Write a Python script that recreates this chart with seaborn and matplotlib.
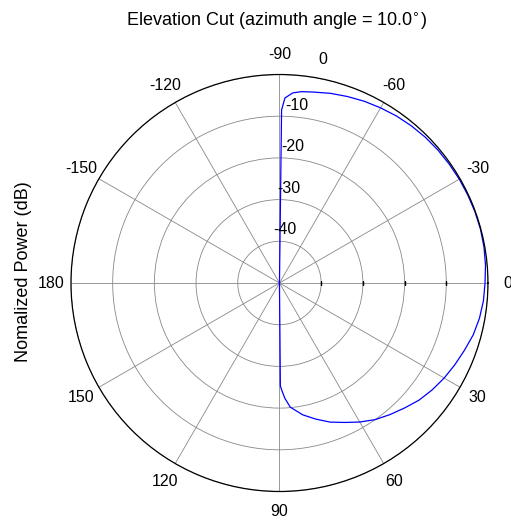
import matplotlib
matplotlib.use('Agg')

import numpy as np
import seaborn as sns
import matplotlib.pyplot as plt

# elevation cut (degrees, dB)
elev_deg = [-90, -89.3, -88.3, -86, -83.4, -80, -75, -70, -65, -60, -55, -50, -45, -40,
            -35, -30, -25, -20, -15, -10, -5, 0, 5, 10, 15, 20, 25, 30, 35, 40,
            45, 50, 55, 60, 65, 70, 75, 80, 85, 87.3, 88.8, 89.5, 90]
power_db = [-50, -8.5, -5.6, -4.3, -3.8, -3.5, -2.9, -2.4, -1.9, -1.5, -1.1, -0.8, -0.55, -0.4,
            -0.3, -0.2, -0.15, -0.1, -0.1, -0.2, -0.4, -0.7, -0.9, -1.3, -1.9, -2.8, -3.6, -4.4, -5.3, -6.3,
            -7.6, -8.8, -10.0, -11.5, -13.1, -14.5, -16.2, -17.9, -20.1, -22.3, -24.3, -25.3, -50]

theta_ticks = [0, 30, 60, 90, 120, 150, 180, 210, 240, 270, 300, 330]
theta_labels = ['0', '30', '60', '90', '120', '150', '180', '-150', '-120', '-90', '-60', '-30']
r_rings = [-40, -30, -20, -10, 0]

sns.set_style('white')
plt.rcParams['font.family'] = ['Liberation Sans', 'DejaVu Sans']
plt.rcParams['font.size'] = 11.5
plt.rcParams['text.color'] = 'black'

fig = plt.figure(figsize=(5.11, 5.21), dpi=100)
ax = fig.add_axes([0.1389, 0.0566, 0.816, 0.8004], projection='polar')
ax.set_theta_zero_location('E')
ax.set_theta_direction(-1)
ax.set_rlim(-50, 0)

sns.lineplot(x=np.deg2rad(elev_deg), y=power_db, ax=ax, color='blue', linewidth=0.9, sort=False)

ax.set_thetagrids(theta_ticks, theta_labels)
ax.set_rgrids(r_rings, labels=[''] * len(r_rings))
ax.grid(True, color='#888888', linewidth=0.6)
ax.tick_params(axis='x', pad=4, labelsize=11.5, colors='black')
ax.spines['polar'].set_color('black')
ax.spines['polar'].set_linewidth(0.9)
ax.set_xlabel('')
ax.set_ylabel('')

# radial labels, MATLAB-style near the top spoke
for v in r_rings:
    if v == 0:
        ax.text(np.deg2rad(-79), 4.6, '0', ha='center', va='center', clip_on=False)
    else:
        ax.text(np.deg2rad(-84.5), v + 2.8, str(v), ha='center', va='center')

# small ticks along the 0-degree spoke
for v in r_rings[:-1]:
    ax.plot([0, 0], [v, v], marker='|', color='black', markersize=3, markeredgewidth=0.9)

fig.text(277 / 511, 1 - 21 / 521, 'Elevation Cut (azimuth angle = 10.0$^{\\circ}$)',
         ha='center', va='center', fontsize=13)
fig.text(24 / 511, 1 - 272 / 521, 'Nomalized Power (dB)', rotation=90,
         ha='center', va='center', fontsize=13)

fig.savefig('out.png', dpi=100)
